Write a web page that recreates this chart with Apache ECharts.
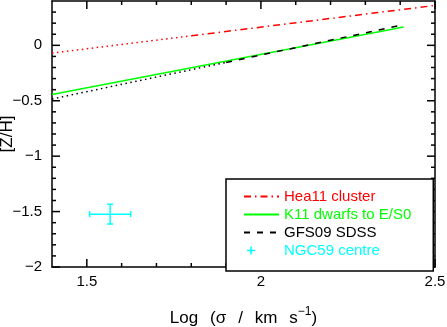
<!DOCTYPE html>
<html>
<head>
<meta charset="utf-8">
<script src="https://cdn.jsdelivr.net/npm/echarts@6/dist/echarts.min.js"></script>
<style>
html, body { margin: 0; padding: 0; background: #fff; }
#chart { width: 447px; height: 327px; }
</style>
</head>
<body>
<div id="chart"></div>
<script>
// axis ranges and ticks
const xRange = [1.4, 2.5]
const yRange = [-2, 0.4]
const xMajor = [1.5, 2, 2.5]
const yMajor = [-2, -1.5, -1, -0.5, 0]
const xMinor = [1.6, 1.7, 1.8, 1.9, 2.1, 2.2, 2.3, 2.4]
const yMinor = [-1.9, -1.8, -1.7, -1.6, -1.4, -1.3, -1.2, -1.1, -0.9, -0.8,
  -0.7, -0.6, -0.4, -0.3, -0.2, -0.1, 0.1, 0.2, 0.3]

// Hea11 cluster (dotted part is an extrapolation)
const hea11DotX = [1.4, 1.8]
const hea11DotY = [-0.07, 0.086]
const hea11X = [1.8, 2.5]
const hea11Y = [0.086, 0.36]

// K11 dwarfs to E/S0
const k11X = [1.4, 2.41]
const k11Y = [-0.444, 0.165]

// GFS09 SDSS (dotted part is an extrapolation)
const gfsDotX = [1.4, 1.9]
const gfsDotY = [-0.484, -0.154]
const gfsX = [1.9, 2.41]
const gfsY = [-0.154, 0.186]

// NGC59 centre with error bars
const ngcX = [1.567]
const ngcY = [-1.523]
const ngcXErr = [0.059]
const ngcYErr = [0.089]

const font = '"Liberation Sans", Arial, sans-serif'
const minus = v => String(v).replace('-', '\u2212')
const pairs = (xs, ys) => xs.map((x, i) => [x, ys[i]])
const frame = { color: '#000', width: 1.5 }

const xAxisOf = (position, withLabel) => ({
  type: 'value', position, min: xRange[0], max: xRange[1],
  axisLine: { show: true, onZero: false, lineStyle: frame },
  axisTick: { show: false },
  axisLabel: { show: withLabel, customValues: xMajor, formatter: minus, color: '#000', fontSize: 15, fontFamily: font, margin: 7 },
  splitLine: { show: false }
})
const yAxisOf = (position, withLabel) => ({
  type: 'value', position, min: yRange[0], max: yRange[1],
  axisLine: { show: true, onZero: false, lineStyle: frame },
  axisTick: { show: false },
  axisLabel: { show: withLabel, customValues: yMajor, formatter: minus, color: '#000', fontSize: 15, fontFamily: font, margin: 10 },
  splitLine: { show: false }
})

const gap = '\u2002\u2009'
const xBottom = xAxisOf('bottom', true)
xBottom.name = 'Log' + gap + '(\u03c3' + gap + '/' + gap + 'km' + gap + 's{sup|\u22121})'
xBottom.nameLocation = 'middle'
xBottom.nameGap = 39
xBottom.nameMoveOverlap = false
xBottom.nameTextStyle = {
  color: '#000', fontSize: 17, fontFamily: font,
  rich: { sup: { fontSize: 12, fontFamily: font, color: '#000', padding: [0, 0, 12, 0] } }
}
const yLeft = yAxisOf('left', true)
yLeft.name = '[Z/H]'
yLeft.nameLocation = 'middle'
yLeft.nameGap = 36
yLeft.nameMoveOverlap = false
yLeft.nameTextStyle = { color: '#000', fontSize: 17, fontFamily: font }

// inward ticks on all four sides, as thin rect symbols placed on the frame by the axis scales
const xTickMarks = (vals, len) => vals.flatMap(v => [
  { value: [v, yRange[0]], symbolSize: [1.5, len], symbolOffset: [0, -len / 2] },
  { value: [v, yRange[1]], symbolSize: [1.5, len], symbolOffset: [0, len / 2] }
])
const yTickMarks = (vals, len) => vals.flatMap(v => [
  { value: [xRange[0], v], symbolSize: [len, 1.5], symbolOffset: [len / 2, 0] },
  { value: [xRange[1], v], symbolSize: [len, 1.5], symbolOffset: [-len / 2, 0] }
])
const tickSeries = (name, data) => ({
  name, type: 'scatter', symbol: 'rect', silent: true, clip: false, z: 3,
  itemStyle: { color: '#000', opacity: 1 },
  data
})

const plusIcon = 'path://M0,0h0.05v0.05h-0.05z M6.2,3h1.6v3.2h3.2v1.6h-3.2v3.2h-1.6v-3.2h-3.2v-1.6h3.2z M34.95,13.95h0.05v0.05h-0.05z'

const chart = echarts.init(document.getElementById('chart'))
chart.setOption({
  animation: false,
  backgroundColor: '#fff',
  grid: { left: 52, right: 12, top: 1, bottom: 60, outerBoundsMode: 'none', containLabel: false },
  xAxis: [xBottom, xAxisOf('top', false)],
  yAxis: [yLeft, yAxisOf('right', false)],
  legend: {
    orient: 'vertical',
    left: 226, top: 179,
    padding: [10, 22, 13, 17],
    itemWidth: 35, itemHeight: 14, itemGap: 3,
    backgroundColor: '#fff',
    borderColor: '#000', borderWidth: 1.5, borderRadius: 0,
    selectedMode: false,
    textStyle: { fontSize: 15, fontFamily: font },
    data: [
      { name: 'Hea11 cluster', itemStyle: { opacity: 0 }, textStyle: { color: '#ff0000' } },
      { name: 'K11 dwarfs to E/S0', itemStyle: { opacity: 0 }, textStyle: { color: '#00ff00' } },
      { name: 'GFS09 SDSS', itemStyle: { opacity: 0 }, textStyle: { color: '#000' } },
      { name: 'NGC59 centre', icon: plusIcon, textStyle: { color: '#00ffff' } }
    ]
  },
  series: [
    tickSeries('x major ticks', xTickMarks(xMajor, 8)),
    tickSeries('x minor ticks', xTickMarks(xMinor, 4)),
    tickSeries('y major ticks', yTickMarks(yMajor, 8)),
    tickSeries('y minor ticks', yTickMarks(yMinor, 4)),
    {
      name: 'Hea11 extrapolated', type: 'line', symbol: 'none', silent: true,
      lineStyle: { color: '#ff0000', width: 1.5, type: [1.5, 3.5] },
      data: pairs(hea11DotX, hea11DotY)
    },
    {
      name: 'Hea11 cluster', type: 'line', symbol: 'none', silent: true,
      itemStyle: { color: '#ff0000' },
      lineStyle: { color: '#ff0000', width: 1.5, type: [7, 4, 1.5, 4] },
      data: pairs(hea11X, hea11Y)
    },
    {
      name: 'K11 dwarfs to E/S0', type: 'line', symbol: 'none', silent: true,
      itemStyle: { color: '#00ff00' },
      lineStyle: { color: '#00ff00', width: 1.5 },
      data: pairs(k11X, k11Y)
    },
    {
      name: 'GFS09 extrapolated', type: 'line', symbol: 'none', silent: true,
      lineStyle: { color: '#000', width: 1.5, type: [1.5, 3.5] },
      data: pairs(gfsDotX, gfsDotY)
    },
    {
      name: 'GFS09 SDSS', type: 'line', symbol: 'none', silent: true,
      itemStyle: { color: '#000' },
      lineStyle: { color: '#000', width: 1.5, type: [6, 7] },
      data: pairs(gfsX, gfsY)
    },
    {
      name: 'NGC59 centre', type: 'custom', silent: true,
      itemStyle: { color: '#00ffff' },
      encode: { x: 0, y: 1 },
      data: ngcX.map((x, i) => [x, ngcY[i], ngcXErr[i], ngcYErr[i]]),
      renderItem: (params, api) => {
        const x = api.value(0), y = api.value(1), ex = api.value(2), ey = api.value(3)
        const l = api.coord([x - ex, y]), r = api.coord([x + ex, y])
        const t = api.coord([x, y + ey]), b = api.coord([x, y - ey])
        const cap = 3
        const style = { stroke: '#00ffff', lineWidth: 1.5 }
        const seg = (x1, y1, x2, y2) => ({ type: 'line', shape: { x1, y1, x2, y2 }, style })
        return {
          type: 'group',
          children: [
            seg(l[0], l[1], r[0], r[1]),
            seg(t[0], t[1], b[0], b[1]),
            seg(l[0], l[1] - cap, l[0], l[1] + cap),
            seg(r[0], r[1] - cap, r[0], r[1] + cap),
            seg(t[0] - cap, t[1], t[0] + cap, t[1]),
            seg(b[0] - cap, b[1], b[0] + cap, b[1])
          ]
        }
      }
    }
  ]
})
</script>
</body>
</html>
